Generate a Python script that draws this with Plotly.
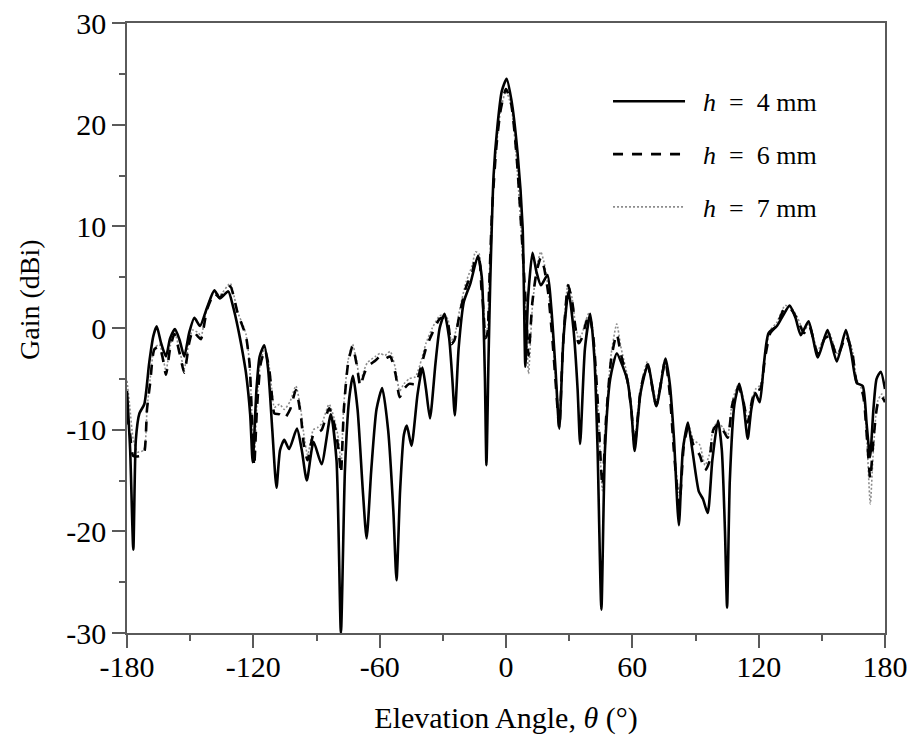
import plotly.graph_objects as go

# h = 4 mm (solid)
theta_h4 = [-180, -178.5, -177, -175.8, -174.1, -171.8, -169.5, -167.5, -165.9, -163.8, -161.5, -159.5, -157.2, -155, -152.8,
            -150.5, -148, -145.3, -142, -138.5, -135.9, -131.9, -129.5, -127.5, -125, -123.5, -121.5, -120.3, -118.5, -117,
            -114.8, -113, -111, -109, -107.3, -105.3, -103, -99.3, -97, -94.6, -91.4, -87.6, -83.2, -80.5, -78.4, -76.5,
            -74.5, -72.7, -70.5, -68, -66.2, -64, -61.5, -58.8, -56, -53.5, -52.0, -50.3, -48.5, -47.1, -44.9, -42, -39.7,
            -38, -36.1, -33.5, -31.5, -29.2, -27, -25.5, -24.3, -22.5, -20, -16.9, -13.3, -11.5, -10.9, -10, -9.3, -8.3,
            -7.5, -5.9, -4, -2, 0.3, 2.5, 5.5, 7.9, 9.2, 10.5, 12.6, 14.5, 16.6, 19.7, 21.5, 23.5, 25.3, 27.3, 29.7, 32,
            34, 35.2, 37.5, 40, 42, 43.5, 45.3, 47, 49.5, 52.6, 55.5, 57.7, 59.5, 61.1, 63.9, 67.4, 71.4, 75.8, 77.8, 79.7,
            82.1, 84, 86.4, 88.5, 91.6, 93.5, 95.8, 98, 100.7, 102.5, 104, 105, 106.3, 108.5, 110.8, 112.8, 114.8, 116.5,
            118.4, 120.5, 122.5, 124.7, 128.7, 131.5, 134.7, 137.5, 140, 143.7, 148.1, 152.7, 157.1, 161.4, 164, 166.6,
            169.4, 171.3, 172.9, 174.5, 176, 178, 180]
gain_h4 = [-6.2, -12, -21.8, -11, -8.4, -7.5, -3.5, -0.8, 0.16, -1.5, -2.8, -1.0, -0.1, -1.2, -2.8,
           -0.5, 1.0, 0.2, 2.0, 3.7, 2.9, 3.6, 2.0, 0.2, -2.5, -4.4, -8.5, -13.2, -6, -2.8,
           -1.7, -4, -10, -15.7, -12, -11.0, -11.9, -9.9, -12, -15.0, -11.2, -13.4, -8.5, -13, -30, -14,
           -7, -4.7, -8, -16, -20.7, -14, -8, -5.9, -10, -18, -24.8, -16, -10.5, -9.6, -11.6, -6.5, -3.9,
           -6.0, -8.9, -3.5, 0, 1.4, -1, -5, -8.6, -2, 2.6, 4.4, 7.1, 5, 2.4, -5, -13.5, -3,
           4.4, 15, 20, 23.3, 24.5, 22.5, 17.2, 9.9, -3.8, 3, 7.4, 5.5, 4.2, 5.2, 2, -4, -9.9, -1, 3.6, 0,
           -6, -11.4, -2, 1.4, -3, -12, -27.7, -12, -5, -2.5, -3.8, -5.2, -8, -12.1, -6.4, -3.6, -7.7, -3.0, -5.5, -10.6,
           -19.4, -12, -9.3, -12, -16.1, -16.8, -18.2, -13, -9.1, -12, -20, -27.5, -15, -7.5, -5.5, -7.5, -10.9, -8,
           -6.4, -7.3, -3.5, -0.5, 0.2, 1.2, 2.2, 1.0, -0.7, 0.65, -2.9, -0.2, -3.3, -0.2, -2.5, -5.4,
           -5.7, -9.5, -12.7, -8, -5, -4.3, -6.0]

# h = 6 mm (dashed)
theta_h6 = [-180, -178.5, -177, -174, -172, -170.5, -169, -167, -164.6, -163, -161.5, -159.5, -157.5, -155, -152.8,
            -150.5, -148.8, -146.5, -144.9, -142, -138.5, -136, -131, -129, -127.5, -125, -123.5, -121.8, -120.8, -119.6,
            -118.3, -116.5, -114.5, -112.5, -111, -110, -107.5, -105.3, -102.5, -99.8, -97.5, -96, -94.2, -91.5, -89.5,
            -87.5, -84, -81.5, -79.5, -78.4, -77, -75, -72.9, -71, -69.2, -67.5, -65.8, -62, -59.8, -57.5, -55, -52.5,
            -50.5, -48.5, -46, -43, -40, -38, -35, -31.5, -29.2, -27.5, -26, -24.5, -22, -19, -16, -14.5, -12.8, -11.7,
            -11, -10.5, -9.8, -8.8, -8, -6.5, -4.5, -2.5, 0, 2.5, 5, 7.5, 9.5, 10.7, 12.5, 14.5, 16.5, 18, 20, 22, 23.8,
            25.3, 27, 29.5, 31.5, 33, 34.5, 36, 38, 39.5, 41.5, 43.5, 45.8, 47.5, 50, 52.6, 54.5, 57.7, 59.5, 61.1, 64,
            67.2, 71.4, 75.6, 77.8, 79.7, 82.3, 84.5, 86.5, 89, 92, 94.5, 96.5, 98.5, 100.7, 103, 105.3, 107.5, 110.5,
            113, 114.8, 117, 118.6, 120.8, 123, 125.5, 128.5, 132.5, 135.5, 138.5, 141.5, 144, 148, 151.5, 153.5, 157.3,
            161.5, 164.5, 166.5, 169.5, 171.5, 173, 174.5, 176.5, 178.5, 180]
gain_h6 = [-8.5, -10.5, -12.6, -12.6, -12.4, -8, -5.4, -2.1, -1.8, -3, -4.6, -2, -0.6, -2.5, -4.4,
           -1.5, -0.3, -0.8, -1.1, 1.8, 3.4, 3.0, 4.1, 2.8, 1.5, 0.1, -0.8, -3.5, -8, -13.6,
           -8, -3.5, -2.2, -4, -7, -8.4, -8.5, -8.9, -8.0, -6.1, -8.5, -11.5, -13.0, -10.5, -10.3,
           -10.0, -7.9, -9.5, -12, -14.3, -8, -3.5, -1.8, -3.5, -5.7, -4.6, -3.8, -3.2, -2.8, -3.0, -2.8, -4.5,
           -6.8, -6, -5.5, -5.5, -3.5, -2, -0.5, 0.9, 1.0, 0.4, -1.6, -1.2, 1.4, 4.0, 5.5, 6.8, 6.7, 4,
           2.5, 1, -1, -0.5, 4, 12, 18, 21.5, 23.5, 22, 17, 9, 2, -2.7, 2.5, 5.5, 6.9, 6.0, 3.5, -1, -6,
           -9.8, -2, 4.2, 2.5, 0, -1.5, -1, 0.5, 1.3, -1, -7, -15.5, -9, -3, -0.6, -2.5, -5.2, -8, -11.5, -6,
           -3.6, -7.6, -3.2, -6.5, -12, -17.5, -11.5, -9.8, -11.5, -12.5, -14, -13.2, -10, -9.5, -10, -10.8, -7.5, -5.8,
           -7.5, -9.3, -7, -6.2, -6, -3, -0.5, 0.2, 2.0, 1.8, 0.8, -0.5, 0.2, -2.5, -1.0, -0.8, -2.8,
           -0.8, -2.5, -5.3, -6.5, -11, -14.8, -11, -7.5, -6.8, -7.3]

# h = 7 mm (dotted)
theta_h7 = [-180, -178.8, -177, -175, -172, -170.5, -169, -167, -164.6, -163, -161.5, -159.5, -157.5, -155, -152.8,
            -150.5, -148.8, -146, -144.9, -142, -138.5, -136, -131, -129, -127.5, -125, -123.5, -121.8, -120.8, -119.6,
            -118.3, -116.5, -114.5, -112.5, -111, -110, -107.5, -105.3, -102.5, -99.8, -97.5, -96, -94.2, -91.5, -89.5,
            -87.5, -84, -81.5, -79.5, -78.4, -77, -75, -72.9, -71, -69.2, -67.5, -65.8, -62, -59.8, -57.5, -55, -52.5,
            -50.5, -48.5, -46, -43, -40, -38, -35, -31.5, -29.2, -27.5, -26, -24.5, -22, -19, -16, -14.5, -12.8, -11.7,
            -11, -10.5, -9.8, -8.8, -8, -6.5, -4.5, -2.5, 0, 2.5, 5, 7.5, 9.5, 10.7, 12.5, 14.5, 16.5, 18, 20, 22, 23.8,
            25.3, 27, 29.5, 31.5, 33, 34.5, 36, 38, 39.5, 41.5, 43.5, 45.8, 47.5, 50, 52.6, 54.5, 57.7, 59.5, 61.1, 64,
            67.2, 71.4, 75.6, 77.8, 79.7, 82.3, 84.5, 86.5, 89, 92, 94.5, 96.5, 98.5, 100.7, 103, 105.3, 107.5, 110.5,
            113, 114.8, 117, 118.6, 120.8, 123, 125.5, 128.5, 132.5, 135.5, 138.5, 141.5, 144, 148, 151.5, 153.5, 157.3,
            161.5, 164.5, 166.5, 169.5, 171.5, 173, 174.5, 176.5, 178.5, 180]
gain_h7 = [-5.2, -7.5, -11, -12.2, -12.0, -8, -5.0, -2.0, -1.6, -2.8, -4.2, -1.8, -0.4, -2.2, -4.0,
           -1.3, -0.2, -0.5, -0.9, 2.0, 3.6, 3.2, 4.4, 3.0, 1.6, 0.3, -0.6, -3.5, -8, -13.2,
           -7.5, -3.2, -2.0, -3.8, -6.5, -7.8, -7.5, -8.0, -7.2, -5.7, -8.0, -10.5, -12.5, -10, -9.8,
           -9.4, -7.5, -9, -11, -13.5, -7.5, -3.2, -1.6, -3.2, -5.3, -4.2, -3.4, -2.8, -2.5, -2.7, -2.3, -4,
           -6.2, -5.5, -5, -4.8, -3, -1.5, 0, 1.2, 1.3, 0.8, -1.2, -0.8, 1.8, 4.5, 6.2, 7.5, 7.3, 4.5,
           3, 1.5, -0.5, 0, 4.5, 12.5, 18, 21.5, 23.3, 21.8, 16.5, 8.5, 1, -4.5, 2, 5.8, 7.5, 6.5, 4, -0.5, -5.5,
           -9.5, -1.5, 4.4, 2.8, 0.3, -1, -0.6, 0.8, 1.5, -0.8, -7, -16, -9, -2.5, 0.4, -1.8, -4.8, -7.5, -11, -5.8,
           -3.3, -7.2, -3.0, -6.2, -11.5, -16.5, -11, -9.5, -11.0, -11.5, -13.5, -12.5, -9.8, -9.3, -9.8, -10.5, -7.2, -5.5,
           -7.2, -9, -6.8, -6, -5.6, -2.8, -0.2, 0.5, 2.2, 2.0, 1.0, -0.3, 0.4, -2.2, -0.8, -0.5, -2.5,
           -0.5, -2.2, -5, -6.3, -11.5, -17.3, -12, -7.2, -6.5, -7.0]

series_names = ["&nbsp;&nbsp;<i>h</i>&nbsp;&nbsp;=&nbsp;&nbsp;4 mm", "&nbsp;&nbsp;<i>h</i>&nbsp;&nbsp;=&nbsp;&nbsp;6 mm",
                "&nbsp;&nbsp;<i>h</i>&nbsp;&nbsp;=&nbsp;&nbsp;7 mm"]
x_tickvals = [-180, -120, -60, 0, 60, 120, 180]
x_ticktext = ["-180", "-120", "-60", "0", "60", "120", "180"]
y_tickvals = [-30, -20, -10, 0, 10, 20, 30]
y_ticktext = ["-30", "-20", "-10", "0", "10", "20", "30"]

FONT = "Liberation Serif, Times New Roman, serif"
AX = "#5a5a5a"

fig = go.Figure()
fig.add_trace(go.Scatter(x=theta_h7, y=gain_h7, mode="lines", name=series_names[2], legendgroup="c", legendrank=3,
                         line=dict(color="#8c8c8c", width=1.6, dash="2px,2px", shape="spline", smoothing=0.6)))
fig.add_trace(go.Scatter(x=theta_h6, y=gain_h6, mode="lines", name=series_names[1], legendgroup="b", legendrank=2,
                         line=dict(color="black", width=2.6, dash="10px,9px", shape="spline", smoothing=0.6)))
fig.add_trace(go.Scatter(x=theta_h4, y=gain_h4, mode="lines", name=series_names[0], legendgroup="a", legendrank=1,
                         line=dict(color="black", width=2.6, shape="spline", smoothing=0.6)))

axis_common = dict(
    showline=True, linecolor=AX, linewidth=1.5, mirror=True,
    ticks="outside", tickcolor=AX, tickwidth=1.5, ticklen=13,
    showgrid=False, zeroline=False, automargin=False,
    ticklabeloverflow="allow",
    tickfont=dict(family=FONT, size=30, color="black"),
)

# page body adds an 8px margin, so the figure is sized to fit the window
fig.update_layout(
    width=899, height=727,
    paper_bgcolor="white", plot_bgcolor="white",
    margin=dict(l=119, r=22, t=15, b=102),
    font=dict(family=FONT, color="black"),
    xaxis=dict(range=[-180, 180], tickvals=x_tickvals, ticktext=x_ticktext,
               minor=dict(ticks="outside", ticklen=6, tickcolor=AX, tickwidth=1.5, dtick=30, tick0=0),
               title=dict(text="Elevation Angle, <i>θ</i> (°)", font=dict(family=FONT, size=30), standoff=27),
               ticklabelstandoff=-7,
               **axis_common),
    yaxis=dict(range=[-30, 30], tickvals=y_tickvals, ticktext=y_ticktext,
               minor=dict(ticks="outside", ticklen=6, tickcolor=AX, tickwidth=1.5, dtick=5, tick0=0),
               ticklabelstandoff=0,
               **axis_common),
    legend=dict(x=0.6346, y=0.91, xanchor="left", yanchor="top", traceorder="grouped",
                font=dict(family=FONT, size=26), bgcolor="rgba(0,0,0,0)", itemwidth=72,
                tracegroupgap=16),
    showlegend=True,
    annotations=[dict(text="Gain (dBi)", textangle=-90, xref="paper", yref="paper",
                      x=-0.1293, y=0.5475, xanchor="center", yanchor="middle", showarrow=False,
                      font=dict(family=FONT, size=28, color="black"))],
)

fig.write_html("out.html")
